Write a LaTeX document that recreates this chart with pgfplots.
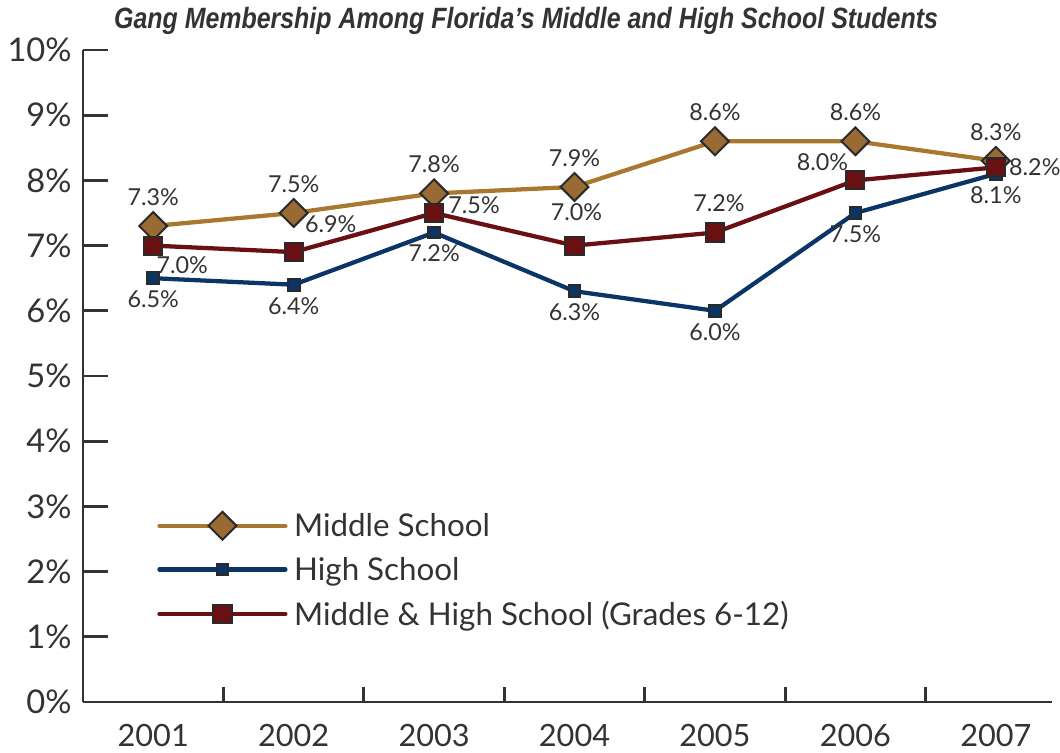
\documentclass[border=0pt]{standalone}
\usepackage{pgfplots}
\pgfplotsset{compat=1.18}
\usepackage{fontspec}
\setmainfont{Lato}
\newfontfamily\titlefont[FakeStretch=0.85]{Liberation Sans}
\definecolor{midc}{HTML}{A8782F}
\definecolor{midf}{HTML}{9A6A34}
\definecolor{highc}{HTML}{0B3566}
\definecolor{combc}{HTML}{6A0F12}
\definecolor{txt}{HTML}{333333}
\definecolor{edge}{HTML}{2A2A2A}
\begin{document}
\begin{tikzpicture}[x=0.75pt,y=0.75pt]
\useasboundingbox (0,0) rectangle (1060,753);
\node[font=\titlefont\bfseries\itshape\fontsize{22pt}{25pt}\selectfont, text=txt] at (526,732) {Gang Membership Among Florida’s Middle and High School Students};
\begin{axis}[
  at={(62.25pt,38.25pt)}, anchor=south west,
  scale only axis, width=726.75pt, height=489pt,
  xmin=-0.5, xmax=6.4, ymin=0, ymax=10,
  axis x line*=bottom, axis y line*=left,
  axis line style={-, line width=2.2pt, draw=txt},
  tick align=inside,
  major tick length=11.25pt,
  tick style={line width=2.2pt, draw=txt},
  /pgf/number format/assume math mode=true,
  ytick=\empty,
  extra y ticks={0,1,2,3,4,5,6,7,8,9,10},
  extra y tick labels={0\%,1\%,2\%,3\%,4\%,5\%,6\%,7\%,8\%,9\%,10\%},
  extra y tick style={major tick length=18.75pt, tick label style={font=\fontsize{24.5pt}{27pt}\selectfont, text=txt, xshift=-5pt}},
  xtick={0.5,1.5,2.5,3.5,4.5,5.5},
  xticklabels={},
  extra x ticks={0,1,2,3,4,5,6},
  extra x tick labels={2001,2002,2003,2004,2005,2006,2007},
  extra x tick style={major tick length=0pt, tick label style={font=\fontsize{23pt}{26pt}\selectfont, text=txt, yshift=-13pt}},
  clip=false,
  legend style={at={(0.0764,0.294)}, anchor=north west, draw=none, fill=none, inner sep=0pt,
     font=\fontsize{23.5pt}{27pt}\selectfont, text=txt, row sep=10pt,
     nodes={inner xsep=5pt}},
  legend cell align=left,
  legend image code/.code={\draw[mark repeat=2,mark phase=2, line cap=round] plot coordinates {(0pt,0pt)(47.25pt,0pt)(94.5pt,0pt)};},
  nodes near coords={\pgfmathprintnumber[fixed,fixed zerofill,precision=1]{\pgfplotspointmeta}\%},
  every node near coord/.append style={font=\fontsize{17.5pt}{20pt}\selectfont, text=txt, anchor=center},
]
\addplot[color=midc, line width=3.2pt, mark=square*, mark size=7.4pt,
  mark options={rotate=45, fill=midf, draw=edge, line width=1.5pt},
  every node near coord/.append style={yshift=21.75pt}]
  coordinates {(0,7.3)(1,7.5)(2,7.8)(3,7.9)(4,8.6)(5,8.6)(6,8.3)};
\addlegendentry{Middle School}
\addplot[color=highc, line width=3.2pt, mark=square*, mark size=4.4pt,
  mark options={fill=highc, draw=edge, line width=1.5pt},
  every node near coord/.append style={yshift=-15.75pt}]
  coordinates {(0,6.5)(1,6.4)(2,7.2)(3,6.3)(4,6.0)(5,7.5)(6,8.1)};
\addlegendentry{High School}
\addplot[color=combc, line width=3.2pt, mark=square*, mark size=6.8pt,
  mark options={fill=combc, draw=edge, line width=1.5pt}, nodes near coords={}]
  coordinates {(0,7.0)(1,6.9)(2,7.5)(3,7.0)(4,7.2)(5,8.0)(6,8.2)};
\addlegendentry{Middle \& High School (Grades 6-12)}
\begin{scope}[every node/.style={font=\fontsize{17.5pt}{20pt}\selectfont, text=txt}]
\node[xshift=21.75pt,yshift=-15pt] at (axis cs:0,7.0) {7.0\%};
\node[xshift=27.75pt,yshift=21pt] at (axis cs:1,6.9) {6.9\%};
\node[xshift=30pt,yshift=6pt] at (axis cs:2,7.5) {7.5\%};
\node[xshift=1.5pt,yshift=24.75pt] at (axis cs:3,7.0) {7.0\%};
\node[xshift=3pt,yshift=21.75pt] at (axis cs:4,7.2) {7.2\%};
\node[xshift=-24.75pt,yshift=13.5pt] at (axis cs:5,8.0) {8.0\%};
\node[xshift=29.25pt,yshift=0pt] at (axis cs:6,8.2) {8.2\%};
\end{scope}
\end{axis}
\end{tikzpicture}
\end{document}
